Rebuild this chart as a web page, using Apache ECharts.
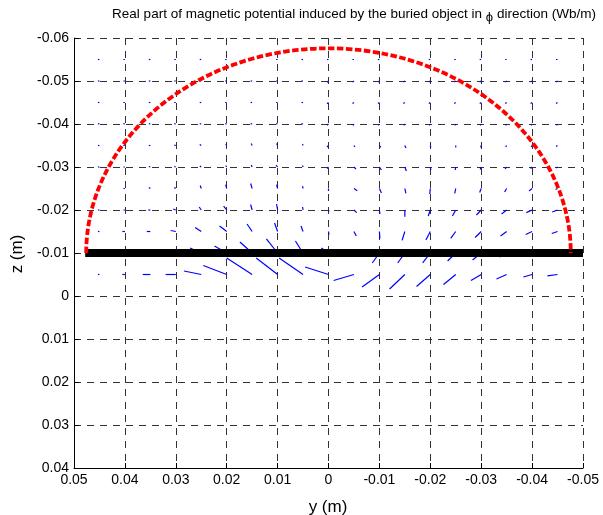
<!DOCTYPE html>
<html>
<head>
<meta charset="utf-8">
<script src="https://cdn.jsdelivr.net/npm/echarts@6/dist/echarts.min.js"></script>
<style>
  html, body { margin: 0; padding: 0; background: #fff; }
  #chart { width: 603px; height: 515px; }
</style>
</head>
<body>
<div id="chart"></div>
<script>
// Horizontal axis y (m), shown from +0.05 on the left to -0.05 on the right
const yTicks = [0.05, 0.04, 0.03, 0.02, 0.01, 0, -0.01, -0.02, -0.03, -0.04, -0.05];
// Vertical axis z (m), shown from -0.06 at the top to 0.04 at the bottom
const zTicks = [-0.06, -0.05, -0.04, -0.03, -0.02, -0.01, 0, 0.01, 0.02, 0.03, 0.04];

// Sample grid of the vector field
const colY = [0.045, 0.04, 0.035, 0.03, 0.025, 0.02, 0.015, 0.01, 0.005, 0,
              -0.005, -0.01, -0.015, -0.02, -0.025, -0.03, -0.035, -0.04, -0.045];
const rowZ = [-0.055, -0.05, -0.045, -0.04, -0.035, -0.03, -0.025, -0.02, -0.015, -0.01, -0.005];

// Field components (arbitrary units), one row per z, one entry per y column
const fieldU = [
  [1.5, 1.5, 1.5, 1.5, 1.5, 1.5, 1.5, 1.5, 1.5, 1.5, 1.5, 1.5, 1.5, 1.5, 1.5, 1.5, 1.5, 1.5, 1.5],
  [1.5, 1.5, 1.5, 1.5, 1.5, 1.5, 1.5, 1.5, 1.5, 0, 1, 1, 1, 1, 1, 1, 1, 1, 1],
  [1.5, 1.5, 1.5, 1.5, 1.5, 1.5, 1.5, 1.5, 1.5, 0, 1, 1, 1, 1, 1, 1, 1, 1, 1],
  [1.5, 1.5, 1.5, 1.5, 1.5, 1.5, 1.5, 1.5, 1.5, 0, 1, 1, 1, 1, 1, 1, 1, 1, 1],
  [1, 1.5, 1.5, 1.5, 1.5, 1, 1, 1, 0.5, 0, -1, -1.5, -1, -0.5, 0, 0.5, 1, 1, 1],
  [1, 1, 1.5, 1.5, 1, 1, 1, 1.5, 0.5, 0, -2, -2, -1.5, -0.5, 0.5, 1, 1.5, 1.5, 1],
  [1, 1, 1.5, 1.5, 1, 1, 1.5, 1, 0.5, 0, -3.3, -2, -1, 0.5, 1, 1.5, 2, 3, 2],
  [1, 1.5, 2, 2.5, 2, 3, 1.5, 1, 0.5, -0.5, -2.7, -0.5, 0, 2, 3.3, 4.7, 5, 5.7, 5.3],
  [1, 2.5, 3.5, 5, 6, 7, 5, 3, 2, -0.5, -2.3, -0.5, 2.7, 4.3, 5, 6, 6, 6.3, 5.7],
  [1, 2, 4, 6, 11, 12, 12, 11, 7.5, 7, -1, 7, 7, 7.5, 8, 8.5, 7, 6, 5],
  [1.5, 2.5, 7.5, 10, 17, 23, 25, 21, 23.5, 23, 20, 17, 15, 13.5, 12, 10, 10, 8.5, 10]
];
const fieldV = [
  [0, 0, 0, 0, 0, 0, 0, 0, 0, 0, 0, 0, 0, 0, 0, 0, 0, 0, 0],
  [0, 0, 0, 0, 0, 0, 0, 0, 0, 1.5, 1.2, 1.2, 1.2, 1.2, 1.2, 1.2, 1.2, 1.2, 1.2],
  [0, 0, 0, 0, 0, 0, 0, 0, 0, 1.5, 1.2, 1.2, 1.2, 1.2, 1.2, 1.2, 1.2, 1.2, 1.2],
  [-0.5, -0.5, -0.5, -0.5, -0.5, -0.5, -0.5, -0.5, -0.5, 1.5, 1.7, 1.7, 1.7, 1.7, 1.7, 1.7, 1.7, 1.7, 1.7],
  [0, 0, 0, -0.6, -1.2, -1.7, -2.3, -2.3, -1.7, 1.7, 1.7, 2.3, 2.9, 2.3, 2.3, 2.3, 1.7, 1.7, 1.2],
  [0, 0, -0.6, -0.6, -1.2, -1.7, -2.3, -2.3, -1.7, 1.7, 2.3, 3.5, 4.6, 3.5, 3.5, 2.9, 2.3, 1.7, 1.2],
  [0, 0, -1.2, -1.2, -3.5, -4.6, -5.8, -4.6, -2.9, 2.9, 2.6, 5.2, 5.8, 6.4, 5.8, 4.6, 4.1, 2.9, 1.2],
  [0, 0, 0, -1.2, -3.5, -4.6, -6.4, -7, -3.5, 1.7, 3.1, 4.6, 7.8, 7, 7, 5.8, 4.6, 3.1, 2.3],
  [0, 0, 0, -1.2, -4.6, -6.4, -8.7, -9.9, -6.4, 3.5, 5.2, 8.1, 10.4, 9.9, 8.1, 7, 5.2, 3.5, 2.3],
  [0, 0, 0, -1.2, -5.8, -8.1, -12.8, -16.3, -14, -5.8, 3.5, 11.6, 11.6, 11.6, 9.3, 8.1, 4.6, 2.9, 1.7],
  [0, 0, 0, 0, -4.1, -10.5, -19.2, -19.2, -19.2, -8.7, 7, 14.5, 16.9, 14, 11.6, 7, 5.2, 2.9, 1.7]
];
// Arrow length per field unit, metres
const quiverScale = 0.0002;

// Buried object boundary: semicircle on the ground line, and the ground line itself
const domeCenter = [0, -0.01];
const domeRadius = 0.0476;
const groundLine = [[0.0478, -0.01], [-0.05, -0.01]];

const FONT = "'Liberation Sans', Arial, Helvetica, sans-serif";

const arrowData = [];
rowZ.forEach((z, r) => {
  colY.forEach((y, c) => {
    arrowData.push([y, z, fieldU[r][c] * quiverScale, fieldV[r][c] * quiverScale]);
  });
});

function tickText(v) {
  const r = Math.round(v * 100) / 100;
  return r === 0 ? '0' : String(r);
}

const chart = echarts.init(document.getElementById('chart'), null, { renderer: 'canvas' });

chart.setOption({
  animation: false,
  backgroundColor: '#fff',
  grid: { left: 74, right: 20, top: 38, bottom: 47, containLabel: false },
  xAxis: {
    type: 'value',
    inverse: true,
    min: yTicks[yTicks.length - 1],
    max: yTicks[0],
    interval: 0.01,
    axisLine: { show: true, onZero: false, lineStyle: { color: '#000', width: 1 } },
    axisTick: { show: true, inside: true, length: 5, lineStyle: { color: '#000', width: 1 } },
    axisLabel: {
      show: true, margin: 5, color: '#000', fontSize: 14, fontFamily: FONT,
      showMinLabel: true, showMaxLabel: true, formatter: tickText
    },
    splitLine: { show: true, lineStyle: { color: '#333', width: 1, type: [7, 6] } }
  },
  yAxis: {
    type: 'value',
    inverse: true,
    min: zTicks[0],
    max: zTicks[zTicks.length - 1],
    interval: 0.01,
    axisLine: { show: true, onZero: false, lineStyle: { color: '#000', width: 1 } },
    axisTick: { show: true, inside: true, length: 5, lineStyle: { color: '#000', width: 1 } },
    axisLabel: {
      show: true, margin: 5, color: '#000', fontSize: 14, fontFamily: FONT,
      showMinLabel: true, showMaxLabel: true, formatter: tickText
    },
    splitLine: { show: true, lineStyle: { color: '#333', width: 1, type: [7, 6] } }
  },
  graphic: [
    {
      type: 'text', x: 354, y: 14,
      style: {
        text: 'Real part of magnetic potential induced by the buried object in {p|ϕ} direction (Wb/m)',
        align: 'center', verticalAlign: 'middle',
        fill: '#000', fontSize: 13.5, fontFamily: FONT, lineHeight: 16,
        rich: { p: { fontSize: 13, fontFamily: FONT, lineHeight: 16, padding: [6, 0, 0, 0] } }
      }
    },
    {
      type: 'text', x: 328, y: 507,
      style: { text: 'y (m)', align: 'center', verticalAlign: 'middle', fill: '#000', fontSize: 17, fontFamily: FONT }
    },
    {
      type: 'text', x: 17, y: 254, rotation: Math.PI / 2,
      style: { text: 'z (m)', align: 'center', verticalAlign: 'middle', fill: '#000', fontSize: 17, fontFamily: FONT }
    }
  ],
  series: [
    {
      name: 'field',
      type: 'custom',
      coordinateSystem: 'cartesian2d',
      encode: { x: 0, y: 1 },
      z: 2,
      data: arrowData,
      renderItem: function (params, api) {
        const y = api.value(0), z = api.value(1);
        const p0 = api.coord([y, z]);
        const p1 = api.coord([y + api.value(2), z + api.value(3)]);
        let x2 = p1[0], y2 = p1[1];
        // keep even the weakest vectors visible as a short speck
        if (Math.hypot(x2 - p0[0], y2 - p0[1]) < 1.5) { x2 = p0[0] - 1.5; }
        return {
          type: 'line',
          shape: { x1: p0[0], y1: p0[1], x2: x2, y2: y2 },
          style: { stroke: '#0000ff', lineWidth: 1.2 }
        };
      }
    },
    {
      name: 'ground',
      type: 'line',
      z: 3,
      data: groundLine,
      symbol: 'none',
      lineStyle: { color: '#000', width: 8, cap: 'butt' },
      silent: true
    },
    {
      name: 'object',
      type: 'custom',
      coordinateSystem: 'cartesian2d',
      z: 4,
      data: [[domeCenter[0], domeCenter[1], domeRadius]],
      renderItem: function (params, api) {
        const cy = api.value(0), cz = api.value(1), R = api.value(2);
        const left = api.coord([cy + R, cz]);
        const right = api.coord([cy - R, cz]);
        const top = api.coord([cy, cz - R]);
        const rx = Math.abs(right[0] - left[0]) / 2;
        const ry = Math.abs(left[1] - top[1]);
        return {
          type: 'path',
          shape: {
            pathData: 'M' + left[0] + ' ' + left[1] + ' A' + rx + ' ' + ry + ' 0 0 1 ' + right[0] + ' ' + right[1]
          },
          style: { fill: null, stroke: '#ff0000', lineWidth: 3.8, lineDash: [6.5, 2.5] }
        };
      }
    }
  ]
});
</script>
</body>
</html>
